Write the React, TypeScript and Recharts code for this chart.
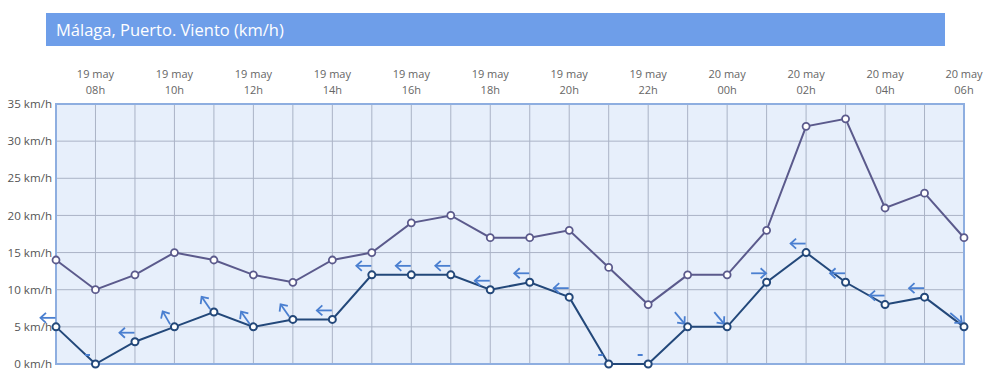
import React from 'react';
import { LineChart, Line, XAxis, YAxis, CartesianGrid, ReferenceArea } from 'recharts';

const hours = ['07h','08h','09h','10h','11h','12h','13h','14h','15h','16h','17h','18h','19h','20h','21h','22h','23h','00h','01h','02h','03h','04h','05h','06h'];
const days = ['19 may','19 may','19 may','19 may','19 may','19 may','19 may','19 may','19 may','19 may','19 may','19 may','19 may','19 may','19 may','19 may','19 may','20 may','20 may','20 may','20 may','20 may','20 may','20 may'];
const gust = [14, 10, 12, 15, 14, 12, 11, 14, 15, 19, 20, 17, 17, 18, 13, 8, 12, 12, 18, 32, 33, 21, 23, 17];
const wind = [5, 0, 3, 5, 7, 5, 6, 6, 12, 12, 12, 10, 11, 9, 0, 0, 5, 5, 11, 15, 11, 8, 9, 5];
// arrow direction on screen in degrees (0 = pointing right, 90 = pointing up); null = calm
const windArrow: (number | null)[] = [180, null, 180, 120, 125, 125, 125, 180, 180, 180, 180, 180, 180, 180, null, null, -50, -50, 0, 180, 180, 180, 180, -40];
const yTicks = [0, 5, 10, 15, 20, 25, 30, 35];

const data = hours.map((h, i) => ({ i, gust: gust[i], wind: wind[i], dir: windArrow[i] }));
const xTicks = hours.map((_, i) => i);

const FONT = '"Open Sans", "DejaVu Sans", sans-serif';

const TopTick = (props: any) => {
  const { x, payload } = props;
  const i = payload.value;
  if (i % 2 === 0) return null;
  return (
    <g>
      <text x={x} y={78} textAnchor="middle" fontSize={11} fill="#666" fontFamily={FONT}>{days[i]}</text>
      <text x={x} y={94} textAnchor="middle" fontSize={11} fill="#666" fontFamily={FONT}>{hours[i]}</text>
    </g>
  );
};

const GustDot = (props: any) => {
  const { cx, cy, index } = props;
  return <circle key={`g${index}`} cx={cx} cy={cy} r={3.5} fill="#fff" stroke="#5b5a8c" strokeWidth={1.8} />;
};

const WindDot = (props: any) => {
  const { cx, cy, index, payload } = props;
  const dir = payload.dir;
  const ax = cx - 8;
  const ay = cy - 9;
  let arrow: React.ReactNode;
  if (dir === null || dir === undefined) {
    arrow = <line x1={ax - 2.5} y1={ay} x2={ax + 2.5} y2={ay} stroke="#4a7fd0" strokeWidth={2} />;
  } else {
    const rot = -dir;
    arrow = (
      <g transform={`translate(${ax},${ay}) rotate(${rot})`}>
        <line x1={-7.5} y1={0} x2={7.5} y2={0} stroke="#4a7fd0" strokeWidth={1.8} />
        <polyline points="2,-5 7.5,0 2,5" fill="none" stroke="#4a7fd0" strokeWidth={1.8} />
      </g>
    );
  }
  return (
    <g key={`w${index}`}>
      {arrow}
      <circle cx={cx} cy={cy} r={3.5} fill="#fff" stroke="#23487a" strokeWidth={2} />
    </g>
  );
};

export default function App() {
  return (
    <div style={{ position: 'absolute', left: 0, top: 0, width: 991, height: 383, background: '#fff', fontFamily: FONT }}>
      <div style={{ position: 'absolute', left: 46, top: 13, width: 899, height: 33, background: '#6e9ee9', color: '#fff', fontSize: 16.5, lineHeight: '33px', paddingLeft: 10, boxSizing: 'border-box', fontFamily: FONT }}>
        Málaga, Puerto. Viento (km/h)
      </div>
      <div style={{ position: 'absolute', left: 0, top: 0 }}>
        <LineChart width={991} height={383} data={data} margin={{ top: 54, right: 27, bottom: 19, left: 0 }}>
          <CartesianGrid stroke="#aab3c6" strokeWidth={1} fill="#e7effb" verticalValues={xTicks} />
          <XAxis dataKey="i" type="number" domain={[0, 23]} ticks={xTicks} orientation="top" height={50} axisLine={false} tickLine={false} tick={<TopTick />} interval={0} />
          <YAxis type="number" domain={[0, 35]} ticks={yTicks} width={56} axisLine={false} tickLine={false} tickSize={0} tickMargin={4}
            tickFormatter={(v: number) => `${v} km/h`} tick={{ fontSize: 11.6, fill: '#555', fontFamily: FONT }} interval={0} />
          <ReferenceArea x1={0} x2={23} y1={0} y2={35} fill="none" stroke="#8eaee0" strokeWidth={2} ifOverflow="visible" />
          <Line type="linear" dataKey="gust" stroke="#5b5a8c" strokeWidth={2} dot={<GustDot />} activeDot={false} isAnimationActive={false} />
          <Line type="linear" dataKey="wind" stroke="#23487a" strokeWidth={2} dot={<WindDot />} activeDot={false} isAnimationActive={false} />
        </LineChart>
      </div>
    </div>
  );
}
